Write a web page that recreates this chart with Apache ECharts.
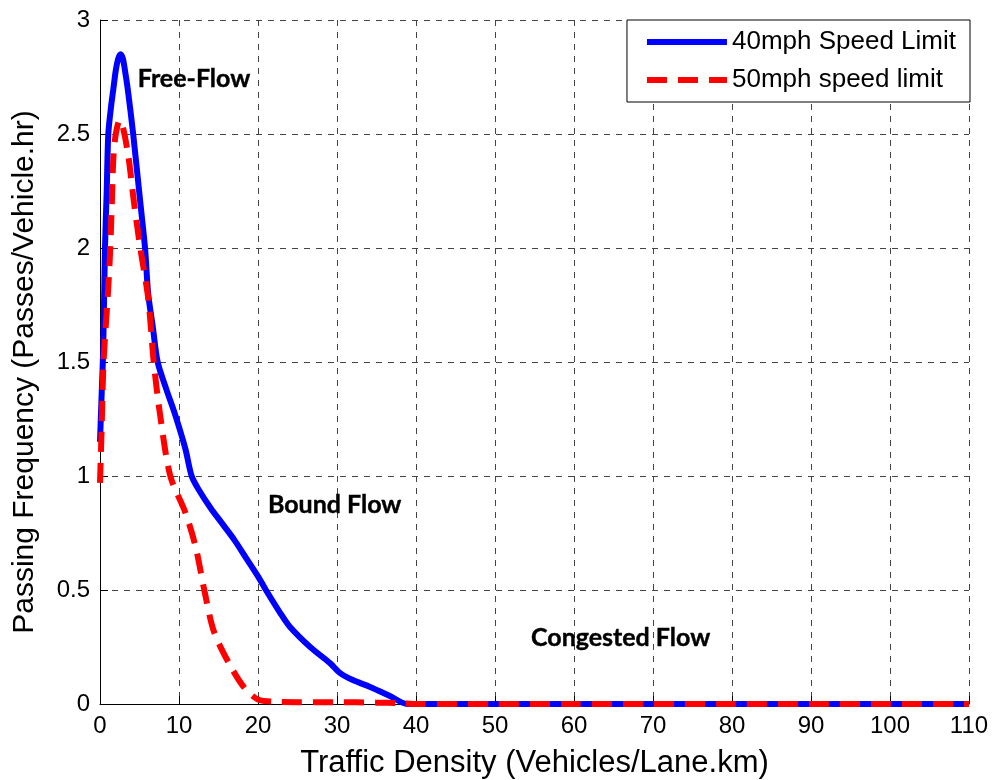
<!DOCTYPE html>
<html>
<head>
<meta charset="utf-8">
<script src="https://cdn.jsdelivr.net/npm/echarts@6/dist/echarts.min.js"></script>
<style>html,body{margin:0;padding:0;background:#fff}#c{width:994px;height:780px}</style>
</head>
<body>
<div id="c"></div>
<script>
// 40mph Speed Limit
const blueX = [0, 0.2, 0.4, 0.63, 0.85, 1.05, 1.4, 1.7, 2.0, 2.3, 2.6, 2.9, 3.2, 3.5, 4.2, 5.1, 5.7, 6.1, 6.7, 7.3, 8.4, 9.5, 10.8, 11.6, 12.5, 14, 15.5, 17, 18.5, 20, 21, 22.8, 24, 26.6, 29.1, 30.4, 32, 34.2, 36.7, 38.9, 40, 50, 60, 70, 80, 90, 100, 110];
const blueY = [1.15, 1.35, 1.55, 2.0, 2.25, 2.5, 2.62, 2.7, 2.78, 2.83, 2.85, 2.83, 2.77, 2.7, 2.5, 2.2, 2.0, 1.8, 1.65, 1.5, 1.38, 1.27, 1.12, 1.0, 0.94, 0.86, 0.79, 0.72, 0.64, 0.56, 0.5, 0.4, 0.34, 0.25, 0.18, 0.135, 0.105, 0.075, 0.035, 0.0, 0, 0, 0, 0, 0, 0, 0, 0];
// 50mph speed limit
const redX = [0, 0.2, 0.45, 1.0, 1.3, 1.5, 1.7, 2.0, 2.5, 2.9, 3.6, 4.3, 5.1, 6.1, 6.8, 7.6, 8.9, 10.8, 12.1, 13.2, 14.4, 16.3, 18.3, 20, 22, 25, 30, 35, 38, 40, 50, 60, 70, 80, 90, 100, 110];
const redY = [0.97, 1.2, 1.5, 1.8, 2.0, 2.2, 2.4, 2.5, 2.56, 2.53, 2.4, 2.2, 2.0, 1.78, 1.5, 1.27, 1.0, 0.84, 0.69, 0.5, 0.32, 0.18, 0.07, 0.02, 0.01, 0.008, 0.008, 0.006, 0.004, 0, 0, 0, 0, 0, 0, 0, 0];
const seriesNames = ['40mph Speed Limit', '50mph speed limit'];
// annotations [x, y, text]
const notes = [[11.9, 2.74, 'Free-Flow'], [29.7, 0.873, 'Bound Flow'], [65.9, 0.29, 'Congested Flow']];
const xTicks = {min: 0, max: 110, interval: 10};
const yTicks = {min: 0, max: 3, interval: 0.5};

const zip = (xs, ys) => xs.map((x, i) => [x, ys[i]]);
const font = 'Liberation Sans, Arial, sans-serif';
const chart = echarts.init(document.getElementById('c'));
chart.setOption({
  animation: false,
  backgroundColor: '#fff',
  grid: {left: 100, right: 25, top: 20, bottom: 76, outerBoundsMode: 'none', containLabel: false},
  legend: {
    data: seriesNames,
    orient: 'vertical', right: 24, top: 20,
    backgroundColor: '#fff', borderColor: '#000', borderWidth: 1, borderRadius: 0,
    padding: [9, 14, 9, 17], itemWidth: 80, itemHeight: 14, itemGap: 12,
    lineStyle: {width: 6},
    itemStyle: {opacity: 0, borderWidth: 0},
    textStyle: {fontSize: 26, fontFamily: font, color: '#000'}
  },
  xAxis: {
    type: 'value', min: xTicks.min, max: xTicks.max, interval: xTicks.interval,
    name: 'Traffic Density (Vehicles/Lane.km)', nameLocation: 'middle', nameGap: 44,
    nameTextStyle: {fontSize: 31, fontFamily: font, color: '#000'},
    axisLine: {show: true, lineStyle: {color: '#000', width: 1}},
    axisTick: {inside: true, length: 8, lineStyle: {color: '#000'}},
    axisLabel: {fontSize: 24, fontFamily: font, color: '#000', margin: 10},
    splitLine: {show: true, lineStyle: {color: '#444', type: [6, 6], width: 1}}
  },
  yAxis: {
    type: 'value', min: yTicks.min, max: yTicks.max, interval: yTicks.interval,
    name: 'Passing Frequency (Passes/Vehicle.hr)', nameLocation: 'middle', nameGap: 60,
    nameTextStyle: {fontSize: 30, fontFamily: font, color: '#000', padding: [0, 20, 0, 0]},
    axisLine: {show: true, lineStyle: {color: '#000', width: 1}},
    axisTick: {show: true, inside: true, length: 8, lineStyle: {color: '#000'}},
    axisLabel: {fontSize: 24, fontFamily: font, color: '#000', margin: 10},
    splitLine: {show: true, lineStyle: {color: '#444', type: [6, 6], width: 1}}
  },
  series: [
    {name: seriesNames[0], type: 'line', data: zip(blueX, blueY), symbol: 'none', smooth: 0.3,
     lineStyle: {color: '#0000ff', width: 6}, itemStyle: {color: '#0000ff'}, z: 3},
    {name: seriesNames[1], type: 'line', data: zip(redX, redY), symbol: 'none', smooth: 0.3,
     lineStyle: {color: '#ff0000', width: 6, type: [20, 11]}, itemStyle: {color: '#ff0000'}, z: 4},
    {name: 'notes', type: 'scatter', symbolSize: 0, silent: true, z: 5,
     itemStyle: {opacity: 1},
     data: notes.map(n => ({value: [n[0], n[1]], label: {formatter: n[2]}})),
     label: {show: true, position: 'inside', fontFamily: 'Lato, sans-serif', fontWeight: 'bold', fontSize: 25,
             color: '#000', textBorderColor: '#000', textBorderWidth: 0.4}}
  ]
});
</script>
</body>
</html>
